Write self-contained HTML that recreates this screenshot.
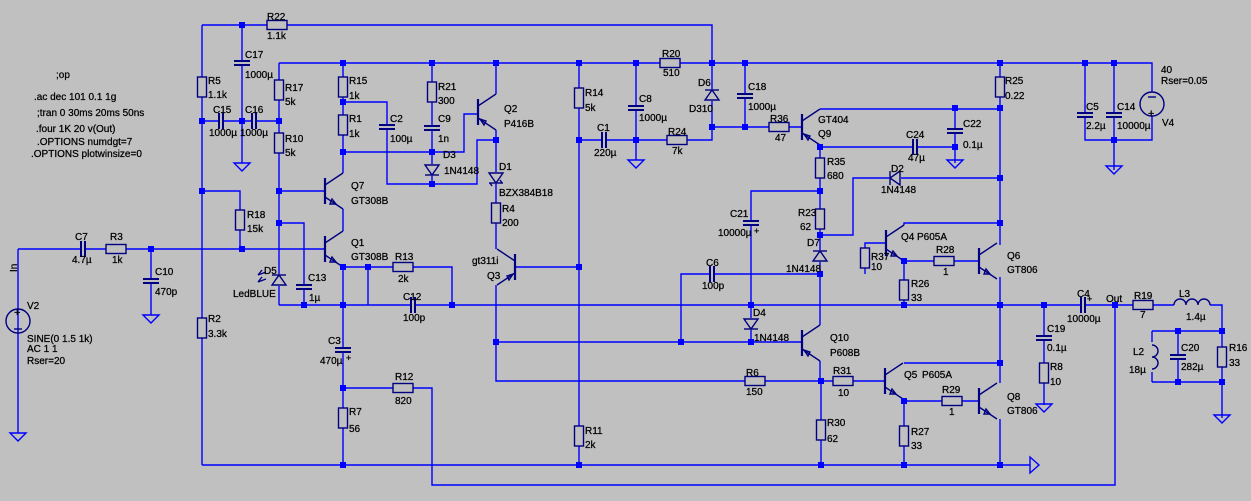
<!DOCTYPE html>
<html><head><meta charset="utf-8"><style>
html,body{margin:0;padding:0;background:#c0c0c0;}
svg{display:block;}
text{font-family:"Liberation Sans",Arial,sans-serif;font-size:10px;fill:#000;stroke:#000;stroke-width:0.25;}
.w{stroke:#0000ff;stroke-width:1.4;fill:none;}
.c{stroke:#000080;stroke-width:1.4;fill:#c0c0c0;}
.cn{stroke:#000080;stroke-width:1.4;fill:none;}
.p{stroke:#000080;stroke-width:2;}
.g{stroke:#0000ff;stroke-width:1.4;fill:none;}
.j{fill:#0000ff;}
</style></head><body>
<svg width="1251" height="501" viewBox="0 0 1251 501" xmlns="http://www.w3.org/2000/svg">
<defs>
<rect id="rv" x="-4.5" y="-10" width="9" height="20" class="c"/>
<rect id="rh" x="-10" y="-4.5" width="20" height="9" class="c"/>
<g id="cv"><rect x="-8" y="-2" width="16" height="4" fill="#c0c0c0"/><line x1="-8" y1="-2" x2="8" y2="-2" class="p"/><line x1="-8" y1="2" x2="8" y2="2" class="p"/></g>
<g id="ch"><rect x="-2" y="-8" width="4" height="16" fill="#c0c0c0"/><line y1="-8" x1="-2" y2="8" x2="-2" class="p"/><line y1="-8" x1="2" y2="8" x2="2" class="p"/></g>
<polygon id="gnd" points="-8,0 8,0 0,8" class="g"/>
<rect id="j" x="-3" y="-3" width="6" height="6" class="j"/>
<g id="dd"><rect x="-7" y="-6" width="14" height="12" fill="#c0c0c0"/><polygon points="-7,-5 7,-5 0,5" class="cn"/><line x1="-7" y1="5" x2="7" y2="5" class="cn"/></g>
<g id="du"><rect x="-7" y="-6" width="14" height="12" fill="#c0c0c0"/><polygon points="-7,5 7,5 0,-5" class="cn"/><line x1="-7" y1="-5" x2="7" y2="-5" class="cn"/></g>
<g id="dl"><rect x="-6" y="-7" width="12" height="14" fill="#c0c0c0"/><polygon points="5,-7 5,7 -5,0" class="cn"/><line x1="-5" y1="-7" x2="-5" y2="7" class="cn"/></g>
<g id="npn"><line x1="0" y1="-13" x2="0" y2="13" stroke="#000080" stroke-width="2.2"/><line x1="0" y1="-6" x2="18" y2="-18" class="cn"/><line x1="0" y1="6" x2="18" y2="18" class="cn"/><polygon points="11,13 7,8 5,13" class="cn"/></g>
<g id="pnp"><line x1="0" y1="-13" x2="0" y2="13" stroke="#000080" stroke-width="2.2"/><line x1="0" y1="-6" x2="18" y2="-18" class="cn"/><line x1="0" y1="6" x2="18" y2="18" class="cn"/><polygon points="2,7 8,9 6,13" class="cn"/></g>
</defs>

<path class="w" d="
M202 25 H712 V63
M202 25 V465
M242 25 V163
M202 121 H279
M202 191 H240 V249
M18 249 H325
M18 249 V433
M151 249 V315
M279 63 H1152 V92
M1152 116 V140 H1085 V63
M1114 63 V170
M279 63 V305
M279 191 H325
M279 223 H304 V305
M279 305 H1222 V418
M343 267 H452 V305
M368 267 V305
M343 63 V173
M343 209 V231
M343 102 H387 V184 H477 V140 H496
M343 152 H464 V114 H478
M432 63 V184
M496 63 V94
M496 130 V249
M496 285 V381 H821
M515 267 H579
M579 63 V465
M579 140 H712 V127
M636 63 V160
M712 63 V127 H802
M745 63 V127
M820 109 H1000
M820 145 V147 H955
M955 108 V163
M820 147 V325
M820 361 V381
M820 191 H751 V342
M820 235 H853 V178 H1000
M681 342 V274 H820
M496 342 H802
M865 274 V243 H886
M904 225 V223 H1000
M904 261 H979
M904 261 V305
M1000 63 V245
M1000 277 V383
M1000 419 V465
M904 363 H1000
M821 381 H885
M904 399 V401 H979
M904 401 V465
M821 381 V465
M202 465 H1030
M343 267 V465
M343 388 H432 V485 H1115 V305
M1044 305 V405
M1152 331 H1222
M1152 382 H1222
M1152 331 V382
M1178 331 V382
M751 305 V342
"/>
<polygon points="1030,457 1030,473 1039,465" class="g"/>

<use href="#gnd" x="242" y="163"/>
<use href="#gnd" x="18" y="433"/>
<use href="#gnd" x="151" y="315"/>
<use href="#gnd" x="1114" y="166"/>
<use href="#gnd" x="636" y="160"/>
<use href="#gnd" x="955" y="160"/>
<use href="#gnd" x="1044" y="404"/>
<use href="#gnd" x="1222" y="415"/>

<use href="#rh" x="277" y="25"/>
<use href="#rv" x="202" y="87"/>
<use href="#rv" x="279" y="90"/>
<use href="#rv" x="279" y="143"/>
<use href="#rv" x="343" y="87"/>
<use href="#rv" x="343" y="125"/>
<use href="#rv" x="240" y="220"/>
<use href="#rh" x="116" y="249"/>
<use href="#rv" x="202" y="328"/>
<use href="#rh" x="403" y="267"/>
<use href="#rh" x="403" y="388"/>
<use href="#rv" x="343" y="418"/>
<use href="#rv" x="432" y="92"/>
<use href="#rv" x="496" y="213"/>
<use href="#rv" x="579" y="98"/>
<use href="#rh" x="677" y="140"/>
<use href="#rh" x="670" y="63"/>
<use href="#rh" x="779" y="127"/>
<use href="#rv" x="820" y="168"/>
<use href="#rv" x="820" y="219"/>
<use href="#rv" x="1000" y="87"/>
<use href="#rv" x="865" y="258"/>
<use href="#rh" x="944" y="261"/>
<use href="#rv" x="904" y="290"/>
<use href="#rh" x="755" y="381"/>
<use href="#rv" x="579" y="436"/>
<use href="#rh" x="843" y="381"/>
<use href="#rv" x="821" y="430"/>
<use href="#rh" x="952" y="401"/>
<use href="#rv" x="904" y="436"/>
<use href="#rh" x="1143" y="305"/>
<use href="#rv" x="1044" y="373"/>
<use href="#rv" x="1222" y="357"/>

<use href="#cv" x="242" y="63"/>
<use href="#ch" x="221" y="121"/>
<use href="#ch" x="254" y="121"/>
<use href="#ch" x="83" y="249"/>
<use href="#cv" x="151" y="281"/>
<use href="#cv" x="387" y="127"/>
<use href="#cv" x="432" y="128"/>
<use href="#cv" x="304" y="287"/>
<use href="#ch" x="413" y="305"/>
<use href="#cv" x="343" y="350"/>
<text x="346" y="361" style="font-size:9px">+</text>
<use href="#ch" x="604" y="140"/>
<use href="#cv" x="636" y="108"/>
<use href="#cv" x="745" y="96"/>
<use href="#cv" x="955" y="131"/>
<use href="#ch" x="915" y="147"/>
<use href="#cv" x="751" y="223"/>
<text x="754" y="234" style="font-size:9px">+</text>
<use href="#ch" x="712" y="274"/>
<use href="#cv" x="1085" y="115"/>
<use href="#cv" x="1114" y="115"/>
<use href="#ch" x="1083" y="305"/>
<text x="1087" y="302" style="font-size:9px">+</text>
<use href="#cv" x="1044" y="338"/>
<use href="#cv" x="1178" y="357"/>

<rect x="1174" y="297" width="36" height="9" fill="#c0c0c0"/>
<path class="cn" d="M1176 305 a6 6 0 0 1 12 0 a6 6 0 0 1 12 0 a6 6 0 0 1 12 0" transform="translate(-2,0)"/>
<rect x="1145" y="342" width="12" height="30" fill="#c0c0c0"/>
<path class="cn" d="M1152 344 a6 6 0 0 1 0 12 a6 6 0 0 1 0 12" transform="translate(0,1)"/>

<use href="#dd" x="432" y="170"/>
<use href="#dd" x="496" y="178"/>
<use href="#du" x="712" y="95"/>
<use href="#du" x="820" y="256"/>
<use href="#dd" x="751" y="324"/>
<use href="#dl" x="895" y="178"/>
<use href="#du" x="279" y="280"/>
<line x1="490" y1="183" x2="492" y2="186" class="cn"/>
<line x1="502" y1="183" x2="500" y2="180" class="cn"/>
<path class="cn" d="M266 272 l-8 3 M262 270 l-4 5 M266 279 l-8 3 M262 277 l-4 5"/>

<use href="#npn" x="325" y="191"/>
<use href="#npn" x="325" y="249"/>
<use href="#pnp" x="478" y="112"/>
<g transform="translate(515,267) scale(-1,1)"><use href="#pnp"/></g>
<use href="#pnp" x="802" y="127"/>
<use href="#pnp" x="802" y="343"/>
<use href="#npn" x="886" y="243"/>
<use href="#npn" x="979" y="261"/>
<use href="#npn" x="885" y="381"/>
<use href="#npn" x="979" y="401"/>

<circle cx="18" cy="321" r="12" class="cn"/>
<text x="14" y="316" style="font-size:11px">+</text>
<line x1="14" y1="329" x2="22" y2="329" class="cn"/>
<circle cx="1152" cy="104" r="12" class="cn"/>
<line x1="1148" y1="97" x2="1156" y2="97" class="cn"/>
<text x="1148" y="117" style="font-size:11px">+</text>

<g>
<use href="#j" x="242" y="25"/><use href="#j" x="202" y="121"/><use href="#j" x="242" y="121"/><use href="#j" x="279" y="121"/>
<use href="#j" x="202" y="191"/><use href="#j" x="279" y="191"/><use href="#j" x="279" y="223"/>
<use href="#j" x="343" y="63"/><use href="#j" x="343" y="102"/><use href="#j" x="343" y="152"/>
<use href="#j" x="432" y="63"/><use href="#j" x="432" y="152"/><use href="#j" x="432" y="184"/>
<use href="#j" x="496" y="63"/><use href="#j" x="496" y="140"/>
<use href="#j" x="151" y="249"/><use href="#j" x="242" y="249"/>
<use href="#j" x="343" y="267"/><use href="#j" x="368" y="267"/><use href="#j" x="304" y="305"/><use href="#j" x="343" y="305"/><use href="#j" x="452" y="305"/>
<use href="#j" x="343" y="388"/><use href="#j" x="343" y="465"/>
<use href="#j" x="579" y="63"/><use href="#j" x="636" y="63"/><use href="#j" x="712" y="63"/><use href="#j" x="745" y="63"/>
<use href="#j" x="579" y="140"/><use href="#j" x="636" y="140"/><use href="#j" x="712" y="127"/><use href="#j" x="745" y="127"/>
<use href="#j" x="579" y="267"/><use href="#j" x="496" y="342"/><use href="#j" x="681" y="342"/><use href="#j" x="751" y="342"/><use href="#j" x="751" y="305"/>
<use href="#j" x="579" y="465"/><use href="#j" x="821" y="465"/><use href="#j" x="904" y="465"/><use href="#j" x="1000" y="465"/>
<use href="#j" x="820" y="147"/><use href="#j" x="955" y="108"/><use href="#j" x="955" y="147"/><use href="#j" x="1000" y="108"/><use href="#j" x="1000" y="63"/>
<use href="#j" x="820" y="191"/><use href="#j" x="820" y="235"/><use href="#j" x="820" y="274"/><use href="#j" x="1000" y="178"/><use href="#j" x="1000" y="223"/>
<use href="#j" x="904" y="261"/><use href="#j" x="904" y="305"/><use href="#j" x="1000" y="305"/><use href="#j" x="1044" y="305"/><use href="#j" x="1115" y="305"/>
<use href="#j" x="821" y="381"/><use href="#j" x="904" y="401"/><use href="#j" x="1000" y="363"/>
<use href="#j" x="1085" y="63"/><use href="#j" x="1114" y="63"/><use href="#j" x="1114" y="140"/>
<use href="#j" x="1178" y="331"/><use href="#j" x="1222" y="331"/><use href="#j" x="1178" y="382"/><use href="#j" x="1222" y="382"/>
</g>

<text x="56" y="78">;op</text>
<text x="34" y="100">.ac dec 101 0.1 1g</text>
<text x="37" y="116">;tran 0 30ms 20ms 50ns</text>
<text x="36" y="132">.four 1K 20 v(Out)</text>
<text x="37" y="145">.OPTIONS numdgt=7</text>
<text x="31" y="157">.OPTIONS plotwinsize=0</text>

<text x="267" y="20">R22</text><text x="267" y="39">1.1k</text>
<text x="208" y="84">R5</text><text x="208" y="98">1.1k</text>
<text x="245" y="58">C17</text><text x="245" y="78">1000µ</text>
<text x="285" y="91">R17</text><text x="285" y="105">5k</text>
<text x="213" y="113">C15</text><text x="209" y="136">1000µ</text>
<text x="245" y="113">C16</text><text x="240" y="136">1000µ</text>
<text x="285" y="142">R10</text><text x="285" y="156">5k</text>
<text x="349" y="84">R15</text><text x="349" y="99">1k</text>
<text x="349" y="122">R1</text><text x="349" y="137">1k</text>
<text x="390" y="122">C2</text><text x="390" y="142">100µ</text>
<text x="351" y="189">Q7</text><text x="351" y="204">GT308B</text>
<text x="247" y="218">R18</text><text x="247" y="232">15k</text>
<text x="75" y="240">C7</text><text x="72" y="263">4.7µ</text>
<text x="110" y="240">R3</text><text x="112" y="263">1k</text>
<text x="155" y="275">C10</text><text x="155" y="295">470p</text>
<text transform="translate(17,272) rotate(-90)">In</text>
<text x="27" y="309">V2</text>
<text x="27" y="342">SINE(0 1.5 1k)</text>
<text x="27" y="352">AC 1 1</text>
<text x="27" y="364">Rser=20</text>
<text x="351" y="246">Q1</text><text x="351" y="260">GT308B</text>
<text x="395" y="260">R13</text><text x="398" y="282">2k</text>
<text x="264" y="274">D5</text><text x="233" y="297">LedBLUE</text>
<text x="308" y="281">C13</text><text x="309" y="301">1µ</text>
<text x="403" y="300">C12</text><text x="403" y="321">100p</text>
<text x="208" y="322">R2</text><text x="208" y="337">3.3k</text>
<text x="328" y="344">C3</text><text x="320" y="364">470µ</text>
<text x="395" y="380">R12</text><text x="395" y="404">820</text>
<text x="349" y="415">R7</text><text x="349" y="432">56</text>
<text x="438" y="90">R21</text><text x="438" y="104">300</text>
<text x="438" y="122">C9</text><text x="438" y="142">1n</text>
<text x="443" y="158">D3</text><text x="444" y="174">1N4148</text>
<text x="504" y="112">Q2</text><text x="504" y="127">P416B</text>
<text x="499" y="170">D1</text><text x="499" y="196">BZX384B18</text>
<text x="502" y="212">R4</text><text x="502" y="226">200</text>
<text x="472" y="264">gt311i</text><text x="487" y="279">Q3</text>
<text x="585" y="96">R14</text><text x="585" y="111">5k</text>
<text x="597" y="131">C1</text><text x="594" y="156">220µ</text>
<text x="639" y="102">C8</text><text x="639" y="121">1000µ</text>
<text x="662" y="57">R20</text><text x="663" y="76">510</text>
<text x="668" y="135">R24</text><text x="672" y="154">7k</text>
<text x="698" y="86">D6</text><text x="689" y="112">D310</text>
<text x="748" y="90">C18</text><text x="748" y="110">1000µ</text>
<text x="770" y="122">R36</text><text x="775" y="141">47</text>
<text x="818" y="123">GT404</text><text x="818" y="137">Q9</text>
<text x="827" y="165">R35</text><text x="827" y="179">680</text>
<text x="730" y="217">C21</text><text x="718" y="236">10000µ</text>
<text x="798" y="216">R23</text><text x="800" y="230">62</text>
<text x="807" y="246">D7</text><text x="786" y="272">1N4148</text>
<text x="891" y="172">D2</text><text x="881" y="193">1N4148</text>
<text x="906" y="138">C24</text><text x="908" y="161">47µ</text>
<text x="963" y="127">C22</text><text x="963" y="148">0.1µ</text>
<text x="1005" y="84">R25</text><text x="1005" y="99">0.22</text>
<text x="1086" y="110">C5</text><text x="1086" y="129">2.2µ</text>
<text x="1117" y="110">C14</text><text x="1117" y="129">10000µ</text>
<text x="1161" y="73">40</text><text x="1161" y="84">Rser=0.05</text>
<text x="1162" y="126">V4</text>
<text x="706" y="266">C6</text><text x="702" y="289">100p</text>
<text x="753" y="316">D4</text><text x="754" y="341">1N4148</text>
<text x="830" y="341">Q10</text><text x="830" y="356">P608B</text>
<text x="746" y="376">R6</text><text x="746" y="395">150</text>
<text x="585" y="434">R11</text><text x="585" y="448">2k</text>
<text x="833" y="374">R31</text><text x="838" y="396">10</text>
<text x="827" y="426">R30</text><text x="827" y="442">62</text>
<text x="901" y="240">Q4</text><text x="917" y="240">P605A</text>
<text x="871" y="260">R37</text><text x="871" y="270">10</text>
<text x="936" y="253">R28</text><text x="943" y="275">1</text>
<text x="911" y="287">R26</text><text x="911" y="301">33</text>
<text x="1007" y="259">Q6</text><text x="1007" y="273">GT806</text>
<text x="904" y="378">Q5</text><text x="922" y="378">P605A</text>
<text x="942" y="393">R29</text><text x="949" y="415">1</text>
<text x="911" y="435">R27</text><text x="911" y="449">33</text>
<text x="1007" y="400">Q8</text><text x="1007" y="414">GT806</text>
<text x="1077" y="297">C4</text><text x="1067" y="322">10000µ</text>
<text x="1106" y="302">Out</text>
<text x="1134" y="299">R19</text><text x="1140" y="318">7</text>
<text x="1179" y="297">L3</text><text x="1186" y="320">1.4µ</text>
<text x="1047" y="332">C19</text><text x="1047" y="351">0.1µ</text>
<text x="1050" y="370">R8</text><text x="1050" y="385">10</text>
<text x="1133" y="355">L2</text><text x="1129" y="373">18µ</text>
<text x="1181" y="351">C20</text><text x="1181" y="370">282µ</text>
<text x="1229" y="351">R16</text><text x="1229" y="366">33</text>
</svg>
</body></html>
